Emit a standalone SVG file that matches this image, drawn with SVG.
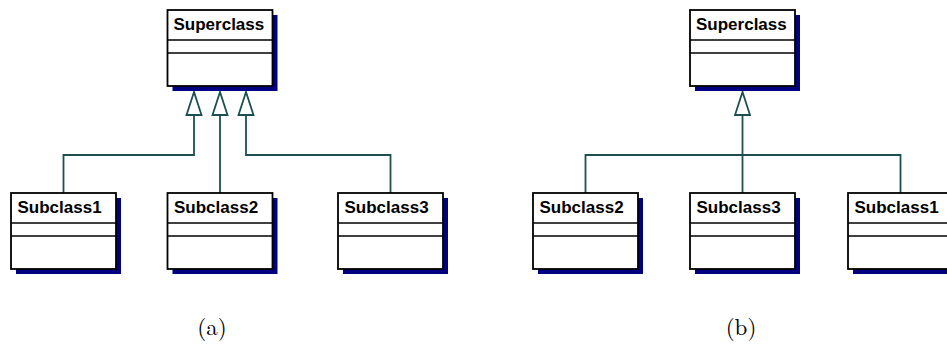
<svg xmlns="http://www.w3.org/2000/svg" width="947" height="345" viewBox="0 0 947 345">
  <defs>
    <style>
      .shadow { fill: #000080; }
      .box { fill: #ffffff; stroke: #000000; stroke-width: 1.8; }
      .div { stroke: #000000; stroke-width: 1.5; }
      .name { font-family: "Liberation Sans", Arial, sans-serif; font-weight: bold; font-size: 17px; fill: #000000; }
      .edge { fill: none; stroke: #1c4f4f; stroke-width: 1.8; }
      .head { fill: #ffffff; stroke: #1c4f4f; stroke-width: 1.8; stroke-linejoin: miter; }
      .caption { font-family: "Latin Modern Roman", "Liberation Serif", "Times New Roman", serif; font-size: 23px; fill: #000000; }
    </style>
    <!-- one UML class: shadow, frame, two compartment separators -->
    <g id="classBox">
      <rect class="shadow" x="5" y="5" width="105" height="76"/>
      <rect class="box" x="0" y="0" width="105" height="76"/>
      <line class="div" x1="0" y1="30" x2="105" y2="30"/>
      <line class="div" x1="0" y1="43" x2="105" y2="43"/>
    </g>
    <!-- hollow generalization arrowhead, apex at origin -->
    <polygon id="genHead" class="head" points="0,0 -7.5,23 7.5,23"/>
  </defs>

  <!-- (a) separate generalization paths -->
  <g id="connectors-a">
    <polyline class="edge" points="63.5,193 63.5,155 194,155 194,114"/>
    <polyline class="edge" points="220,193 220,114"/>
    <polyline class="edge" points="390.5,193 390.5,155 246,155 246,114"/>
    <use href="#genHead" x="194" y="92"/>
    <use href="#genHead" x="220" y="92"/>
    <use href="#genHead" x="246" y="92"/>
  </g>

  <g id="superclass-a">
    <use href="#classBox" x="167.5" y="10"/>
    <text class="name" x="173.5" y="30">Superclass</text>
  </g>
  <g id="subclass1-a">
    <use href="#classBox" x="11" y="193"/>
    <text class="name" x="17.5" y="213">Subclass1</text>
  </g>
  <g id="subclass2-a">
    <use href="#classBox" x="167.5" y="193"/>
    <text class="name" x="174" y="213">Subclass2</text>
  </g>
  <g id="subclass3-a">
    <use href="#classBox" x="338" y="193"/>
    <text class="name" x="344.5" y="213">Subclass3</text>
  </g>

  <!-- (b) shared target style -->
  <g id="connectors-b">
    <polyline class="edge" points="585.5,193 585.5,155 900.5,155 900.5,193"/>
    <polyline class="edge" points="742.5,193 742.5,114"/>
    <use href="#genHead" x="742.5" y="92"/>
  </g>

  <g id="superclass-b">
    <use href="#classBox" x="690" y="10"/>
    <text class="name" x="696" y="30">Superclass</text>
  </g>
  <g id="subclass2-b">
    <use href="#classBox" x="533" y="193"/>
    <text class="name" x="539.5" y="213">Subclass2</text>
  </g>
  <g id="subclass3-b">
    <use href="#classBox" x="690" y="193"/>
    <text class="name" x="696.5" y="213">Subclass3</text>
  </g>
  <g id="subclass1-b">
    <use href="#classBox" x="848" y="193"/>
    <text class="name" x="854.5" y="213">Subclass1</text>
  </g>

  <text class="caption" x="212" y="335" text-anchor="middle">(a)</text>
  <text class="caption" x="741" y="335" text-anchor="middle">(b)</text>
</svg>
